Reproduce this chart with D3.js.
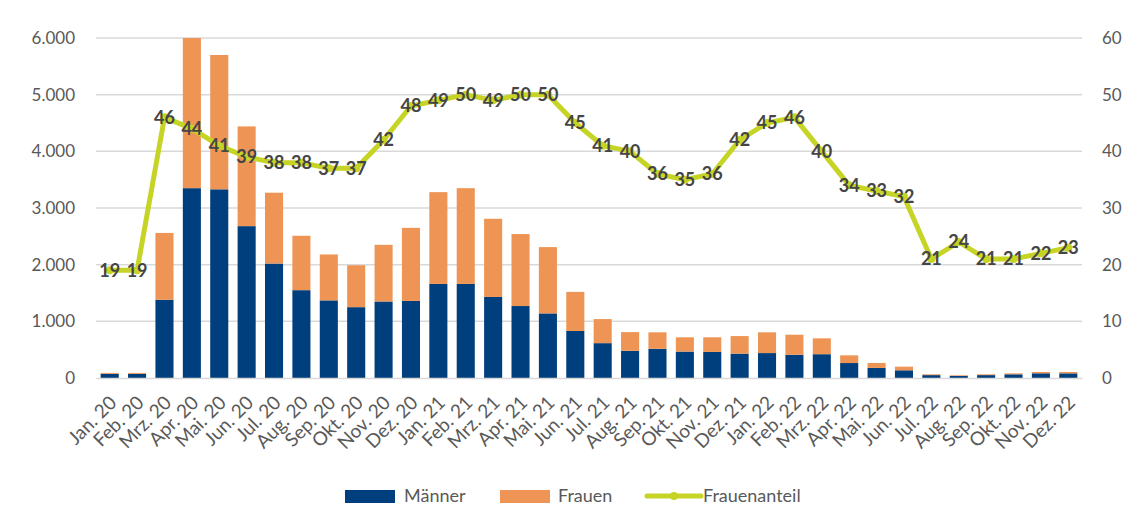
<!DOCTYPE html>
<html>
<head>
<meta charset="utf-8">
<script src="https://cdn.jsdelivr.net/npm/d3@7"></script>
<style>
    body { margin: 0; background: #fff; }
    text { font-family: Lato, "Open Sans", sans-serif; }
</style>
</head>
<body>
<div id="chart"></div>
<script>
var months = ["Jan. 20", "Feb. 20", "Mrz. 20", "Apr. 20", "Mai. 20", "Jun. 20", "Jul. 20", "Aug. 20", "Sep. 20", "Okt. 20", "Nov. 20", "Dez. 20",
    "Jan. 21", "Feb. 21", "Mrz. 21", "Apr. 21", "Mai. 21", "Jun. 21", "Jul. 21", "Aug. 21", "Sep. 21", "Okt. 21", "Nov. 21", "Dez. 21",
    "Jan. 22", "Feb. 22", "Mrz. 22", "Apr. 22", "Mai. 22", "Jun. 22", "Jul. 22", "Aug. 22", "Sep. 22", "Okt. 22", "Nov. 22", "Dez. 22"];

var maenner = [73, 73, 1380, 3350, 3330, 2680, 2020, 1550, 1370, 1250, 1350, 1360,
    1660, 1660, 1430, 1270, 1140, 830, 615, 480, 516, 466, 460, 430,
    440, 410, 420, 264, 178, 136, 51, 36, 51, 65, 83, 82];
var frauen = [17, 17, 1180, 2650, 2370, 1760, 1250, 960, 810, 740, 1000, 1290,
    1620, 1690, 1380, 1270, 1170, 690, 425, 330, 290, 252, 258, 310,
    366, 354, 280, 136, 87, 64, 14, 12, 14, 17, 23, 24];
var frauenanteil = [19, 19, 46, 44, 41, 39, 38, 38, 37, 37, 42, 48,
    49, 50, 49, 50, 50, 45, 41, 40, 36, 35, 36, 42,
    45, 46, 40, 34, 33, 32, 21, 24, 21, 21, 22, 23];

var leftTicks = [0, 1000, 2000, 3000, 4000, 5000, 6000];
var rightTicks = [0, 10, 20, 30, 40, 50, 60];

var colorMaenner = "#003f7e";
var colorFrauen = "#ee9555";
var colorAnteil = "#c6d426";
var textGrey = "#595959";

var width = 1131, height = 506;
var margin = { top: 38, right: 49, bottom: 128, left: 96 };

var svg = d3.select("#chart").append("svg")
    .attr("width", width)
    .attr("height", height);

var x = d3.scaleBand()
    .domain(months)
    .range([margin.left, width - margin.right])
    .paddingInner(0.34)
    .paddingOuter(0.17);

var yLeft = d3.scaleLinear().domain([0, 6000]).range([height - margin.bottom, margin.top]);
var yRight = d3.scaleLinear().domain([0, 60]).range([height - margin.bottom, margin.top]);

var fmt = function (d) { return d3.format(",")(d).replace(/,/g, "."); };

// gridlines
svg.append("g").selectAll("line")
    .data(leftTicks.slice(1))
    .enter().append("line")
    .attr("x1", margin.left)
    .attr("x2", width - margin.right)
    .attr("y1", function (d) { return yLeft(d); })
    .attr("y2", function (d) { return yLeft(d); })
    .attr("stroke", "#d9d9d9")
    .attr("stroke-width", 1.5);

// left axis
var axL = svg.append("g")
    .attr("transform", "translate(" + margin.left + ",0)")
    .call(d3.axisLeft(yLeft).tickValues(leftTicks).tickFormat(fmt).tickSize(0).tickPadding(21));
axL.select(".domain").remove();
axL.selectAll("text").attr("fill", textGrey).style("font-size", "17px");

// right axis
var axR = svg.append("g")
    .attr("transform", "translate(" + (width - margin.right) + ",0)")
    .call(d3.axisRight(yRight).tickValues(rightTicks).tickSize(0).tickPadding(20));
axR.select(".domain").remove();
axR.selectAll("text").attr("fill", textGrey).style("font-size", "17px");

// stacked bars
var stackData = months.map(function (m, i) { return { month: m, maenner: maenner[i], frauen: frauen[i] }; });
var series = d3.stack().keys(["maenner", "frauen"])(stackData);
var colors = { maenner: colorMaenner, frauen: colorFrauen };

svg.append("g").selectAll("g")
    .data(series)
    .enter().append("g")
    .attr("fill", function (s) { return colors[s.key]; })
    .selectAll("rect")
    .data(function (s) { return s; })
    .enter().append("rect")
    .attr("x", function (d) { return x(d.data.month); })
    .attr("width", x.bandwidth())
    .attr("y", function (d) { return yLeft(d[1]); })
    .attr("height", function (d) { return yLeft(d[0]) - yLeft(d[1]); });

// x axis
var axX = svg.append("g")
    .attr("transform", "translate(0," + (height - margin.bottom) + ")")
    .call(d3.axisBottom(x).tickSize(0).tickPadding(0));
axX.select(".domain").attr("stroke", "#d9d9d9").attr("stroke-width", 1.5);
axX.selectAll("text")
    .attr("fill", textGrey)
    .style("font-size", "19px")
    .style("text-anchor", "end")
    .attr("dy", "0")
    .attr("transform", "translate(8,26) rotate(-45)");

// Frauenanteil line
var line = d3.line()
    .x(function (d, i) { return x(months[i]) + x.bandwidth() / 2; })
    .y(function (d) { return yRight(d); });

svg.append("path")
    .datum(frauenanteil)
    .attr("fill", "none")
    .attr("stroke", colorAnteil)
    .attr("stroke-width", 5)
    .attr("stroke-linejoin", "round")
    .attr("d", line);

svg.append("g").selectAll("circle")
    .data(frauenanteil)
    .enter().append("circle")
    .attr("cx", function (d, i) { return x(months[i]) + x.bandwidth() / 2; })
    .attr("cy", function (d) { return yRight(d); })
    .attr("r", 4)
    .attr("fill", colorAnteil);

svg.append("g").selectAll("text")
    .data(frauenanteil)
    .enter().append("text")
    .attr("x", function (d, i) { return x(months[i]) + x.bandwidth() / 2; })
    .attr("y", function (d) { return yRight(d); })
    .attr("dy", "0.36em")
    .attr("text-anchor", "middle")
    .attr("fill", "#454545")
    .style("font-size", "18px")
    .style("font-weight", "bold")
    .text(function (d) { return d; });

// legend
var legend = svg.append("g").attr("transform", "translate(0,496)");
legend.append("rect").attr("x", 345).attr("y", -6).attr("width", 50).attr("height", 13).attr("fill", colorMaenner);
legend.append("text").attr("x", 404).attr("y", 0).attr("dy", "0.35em").attr("fill", textGrey).style("font-size", "18px").text("Männer");
legend.append("rect").attr("x", 500).attr("y", -6).attr("width", 50).attr("height", 13).attr("fill", colorFrauen);
legend.append("text").attr("x", 558).attr("y", 0).attr("dy", "0.35em").attr("fill", textGrey).style("font-size", "18px").text("Frauen");
legend.append("line").attr("x1", 647).attr("x2", 701).attr("y1", 0).attr("y2", 0)
    .attr("stroke", colorAnteil).attr("stroke-width", 5).attr("stroke-linecap", "round");
legend.append("circle").attr("cx", 674).attr("cy", 0).attr("r", 4).attr("fill", colorAnteil);
legend.append("text").attr("x", 703).attr("y", 0).attr("dy", "0.35em").attr("fill", textGrey).style("font-size", "18px").text("Frauenanteil");
</script>
</body>
</html>
